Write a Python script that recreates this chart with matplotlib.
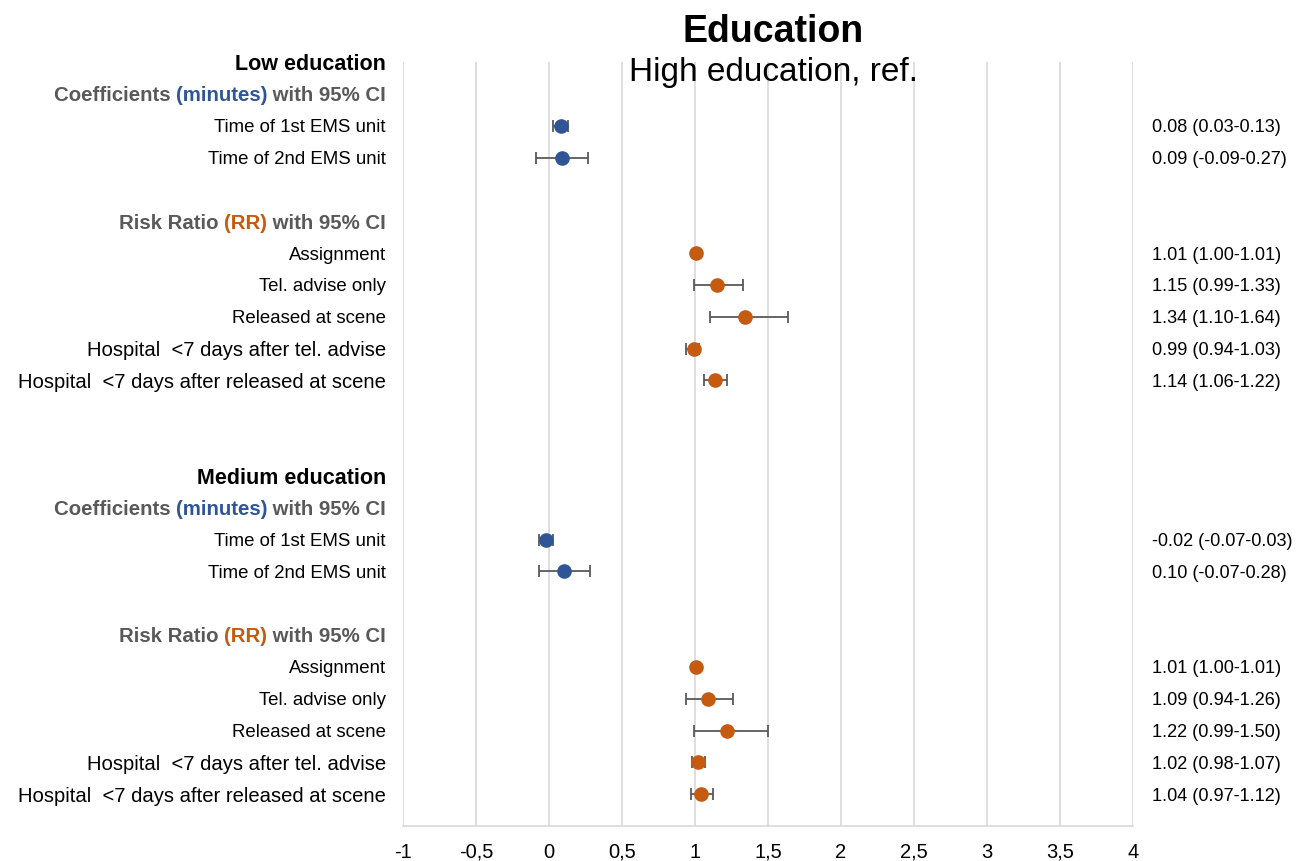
import matplotlib.pyplot as plt
import numpy as np

plt.rcParams['font.family'] = ['Liberation Sans', 'DejaVu Sans']

groups = ['Low education', 'Medium education']
coef_labels = ['Time of 1st EMS unit', 'Time of 2nd EMS unit']
rr_labels = ['Assignment', 'Tel. advise only', 'Released at scene',
             'Hospital  <7 days after tel. advise',
             'Hospital  <7 days after released at scene']

# coefficients (minutes): estimate, lower, upper
low_coef = [0.08, 0.09]
low_coef_lo = [0.03, -0.09]
low_coef_hi = [0.13, 0.27]
med_coef = [-0.02, 0.10]
med_coef_lo = [-0.07, -0.07]
med_coef_hi = [0.03, 0.28]

# risk ratios
low_rr = [1.01, 1.15, 1.34, 0.99, 1.14]
low_rr_lo = [1.00, 0.99, 1.10, 0.94, 1.06]
low_rr_hi = [1.01, 1.33, 1.64, 1.03, 1.22]
med_rr = [1.01, 1.09, 1.22, 1.02, 1.04]
med_rr_lo = [1.00, 0.94, 0.99, 0.98, 0.97]
med_rr_hi = [1.01, 1.26, 1.50, 1.07, 1.12]

xticks = [-1, -0.5, 0, 0.5, 1, 1.5, 2, 2.5, 3, 3.5, 4]
xtick_labels = ['-1', '-0,5', '0', '0,5', '1', '1,5', '2', '2,5', '3', '3,5', '4']

blue = '#2F5597'
orange = '#C55A11'
gray = '#595959'
grid = '#D9D9D9'

fig = plt.figure(figsize=(13.08, 8.61), dpi=100)
ax = fig.add_axes([403/1308, 1 - 826/861, 730/1308, (826 - 62)/861])

ytr = ax.get_yaxis_transform()
lx = (386 - 403) / 730
rx = (1152 - 403) / 730
fs = 13.4
hfs = 14.7
va = 'center_baseline'


def header(y, first, colored, color):
    t3 = ax.text(lx, y, ' with 95% CI', transform=ytr, ha='right', va=va,
                 fontsize=hfs, fontweight='bold', color=gray)
    t2 = ax.annotate(colored, xy=(0, 0), xycoords=t3, ha='right', va='bottom',
                     fontsize=hfs, fontweight='bold', color=color)
    ax.annotate(first, xy=(0, 0), xycoords=t2, ha='right', va='bottom',
                fontsize=hfs, fontweight='bold', color=gray)


def draw_rows(y0, est, lo, hi, labels, color):
    y = y0 + np.arange(len(est))
    est = np.array(est)
    err = [est - np.array(lo), np.array(hi) - est]
    ax.errorbar(est, y, xerr=err, fmt='o', color=color, ms=9.5, ecolor=gray,
                elinewidth=1.3, capsize=4, capthick=1.3, zorder=3)
    for yi, lab, e, l, h in zip(y, labels, est, lo, hi):
        size = 14.6 if lab.startswith('Hospital') else fs
        ax.text(lx, yi, lab, transform=ytr, ha='right', va=va, fontsize=size)
        ax.text(rx, yi, f'{e:.2f} ({l:.2f}-{h:.2f})', transform=ytr,
                ha='left', va=va, fontsize=13.1)


data = [(low_coef, low_coef_lo, low_coef_hi, low_rr, low_rr_lo, low_rr_hi),
        (med_coef, med_coef_lo, med_coef_hi, med_rr, med_rr_lo, med_rr_hi)]

for g, (name, d) in enumerate(zip(groups, data)):
    base = g * 13
    ax.text(lx, base, name, transform=ytr, ha='right', va=va,
            fontsize=15.5, fontweight='bold')
    header(base + 1, 'Coefficients ', '(minutes)', blue)
    draw_rows(base + 2, d[0], d[1], d[2], coef_labels, blue)
    header(base + 5, 'Risk Ratio ', '(RR)', orange)
    draw_rows(base + 6, d[3], d[4], d[5], rr_labels, orange)

ax.set_xlim(-1, 4)
ax.set_ylim(24, 0)
ax.set_xticks(xticks)
ax.set_xticklabels(xtick_labels, fontsize=14.5)
for lab in ax.get_xticklabels():
    lab.set_va('baseline')
ax.set_yticks([])
ax.tick_params(axis='x', length=0, pad=23)
for x in xticks:
    ax.axvline(x, color=grid, lw=1.2, zorder=0)
for s in ['top', 'left', 'right']:
    ax.spines[s].set_visible(False)
ax.spines['bottom'].set_color(grid)
ax.spines['bottom'].set_linewidth(1.2)

fig.text(773/1308, 1 - 28/861, 'Education', ha='center', va='center_baseline',
         fontsize=27, fontweight='bold')
fig.text(773/1308, 1 - 69/861, 'High education, ref.', ha='center',
         va='center_baseline', fontsize=24)

fig.savefig('out.png', dpi=100)
